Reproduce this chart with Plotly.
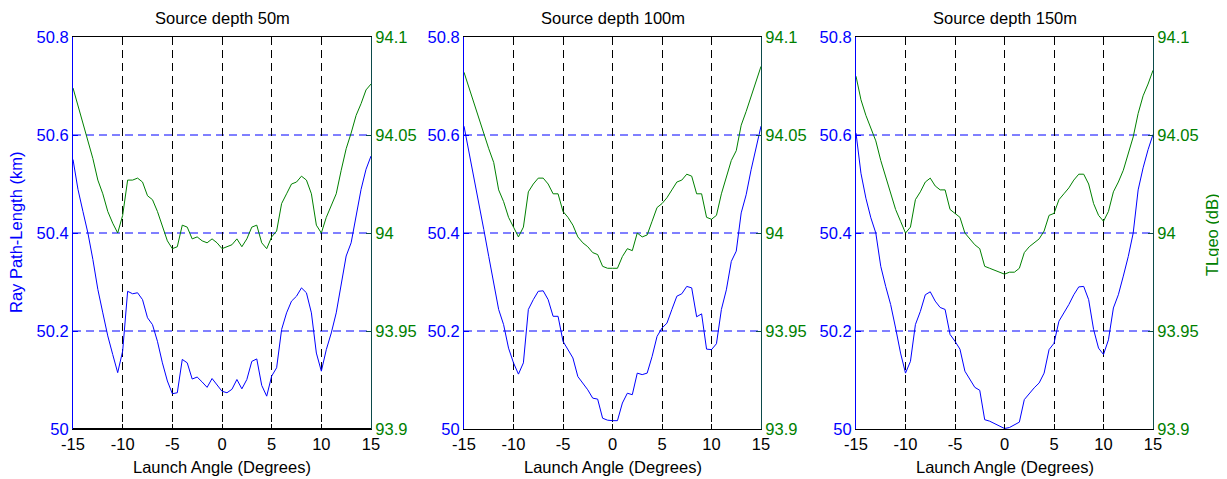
import plotly.graph_objects as go

# ---------------- data ----------------
angles = [-15.0, -14.5, -14.0, -13.5, -13.0, -12.5, -12.0, -11.5, -11.0, -10.5,
          -10.0, -9.5, -9.0, -8.5, -8.0, -7.5, -7.0, -6.5, -6.0, -5.5,
          -5.0, -4.5, -4.0, -3.5, -3.0, -2.5, -2.0, -1.5, -1.0, -0.5,
          0.0, 0.5, 1.0, 1.5, 2.0, 2.5, 3.0, 3.5, 4.0, 4.5,
          5.0, 5.5, 6.0, 6.5, 7.0, 7.5, 8.0, 8.5, 9.0, 9.5,
          10.0, 10.5, 11.0, 11.5, 12.0, 12.5, 13.0, 13.5, 14.0, 14.5, 15.0]

path_50 = [50.550, 50.489, 50.444, 50.400, 50.346, 50.285, 50.237, 50.190, 50.152, 50.115,
           50.159, 50.281, 50.276, 50.278, 50.264, 50.227, 50.213, 50.179, 50.135, 50.098,
           50.072, 50.074, 50.142, 50.135, 50.102, 50.106, 50.096, 50.085, 50.103, 50.091,
           50.077, 50.074, 50.081, 50.101, 50.082, 50.101, 50.138, 50.143, 50.089, 50.067,
           50.108, 50.125, 50.203, 50.237, 50.261, 50.271, 50.288, 50.278, 50.237, 50.155,
           50.118, 50.162, 50.196, 50.237, 50.298, 50.353, 50.380, 50.434, 50.489, 50.530, 50.557]

tl_50 = [94.074, 94.065, 94.056, 94.048, 94.038, 94.027, 94.020, 94.011, 94.005, 94.000,
         94.009, 94.027, 94.027, 94.028, 94.026, 94.019, 94.017, 94.011, 94.003, 93.996,
         93.992, 93.993, 94.004, 94.003, 93.997, 93.998, 93.996, 93.995, 93.997, 93.995,
         93.992, 93.993, 93.994, 93.997, 93.993, 93.997, 94.003, 94.004, 93.995, 93.992,
         93.998, 94.001, 94.015, 94.020, 94.025, 94.026, 94.029, 94.027, 94.020, 94.004,
         94.000, 94.008, 94.014, 94.020, 94.032, 94.043, 94.051, 94.060, 94.066, 94.073, 94.076]

path_100 = [50.618, 50.567, 50.516, 50.461, 50.407, 50.352, 50.298, 50.244, 50.213, 50.165,
            50.135, 50.112, 50.135, 50.244, 50.264, 50.281, 50.282, 50.264, 50.230, 50.230,
            50.179, 50.161, 50.145, 50.107, 50.094, 50.080, 50.063, 50.061, 50.022, 50.018,
            50.017, 50.017, 50.053, 50.073, 50.070, 50.114, 50.111, 50.114, 50.148, 50.189,
            50.206, 50.216, 50.244, 50.271, 50.276, 50.291, 50.288, 50.229, 50.235, 50.163,
            50.162, 50.174, 50.244, 50.284, 50.342, 50.363, 50.441, 50.478, 50.529, 50.573, 50.618]

tl_100 = [94.082, 94.074, 94.066, 94.059, 94.051, 94.043, 94.036, 94.022, 94.016, 94.008,
          94.003, 93.998, 94.003, 94.021, 94.025, 94.028, 94.028, 94.025, 94.020, 94.020,
          94.011, 94.008, 94.004, 93.998, 93.995, 93.993, 93.990, 93.989, 93.983, 93.982,
          93.982, 93.982, 93.988, 93.992, 93.991, 94.000, 93.998, 93.999, 94.006, 94.013,
          94.015, 94.018, 94.022, 94.026, 94.027, 94.030, 94.029, 94.020, 94.020, 94.008,
          94.007, 94.009, 94.020, 94.028, 94.037, 94.042, 94.055, 94.062, 94.070, 94.078, 94.085]

path_150 = [50.604, 50.522, 50.471, 50.431, 50.400, 50.332, 50.291, 50.254, 50.206, 50.155,
            50.114, 50.138, 50.213, 50.240, 50.274, 50.280, 50.261, 50.248, 50.244, 50.193,
            50.179, 50.163, 50.118, 50.102, 50.085, 50.079, 50.019, 50.016, 50.011, 50.005,
            50.001, 50.003, 50.008, 50.014, 50.060, 50.073, 50.084, 50.094, 50.114, 50.162,
            50.175, 50.220, 50.237, 50.254, 50.274, 50.290, 50.291, 50.264, 50.203, 50.165,
            50.152, 50.182, 50.247, 50.274, 50.312, 50.352, 50.400, 50.488, 50.533, 50.570, 50.601]

tl_150 = [94.080, 94.068, 94.060, 94.053, 94.047, 94.037, 94.029, 94.020, 94.012, 94.006,
          94.000, 94.003, 94.017, 94.021, 94.026, 94.028, 94.024, 94.022, 94.022, 94.012,
          94.010, 94.008, 94.000, 93.997, 93.994, 93.992, 93.983, 93.982, 93.981, 93.980,
          93.979, 93.980, 93.980, 93.982, 93.990, 93.993, 93.995, 93.997, 94.001, 94.009,
          94.010, 94.017, 94.020, 94.023, 94.027, 94.030, 94.030, 94.025, 94.015, 94.009,
          94.006, 94.011, 94.021, 94.026, 94.032, 94.040, 94.049, 94.061, 94.070, 94.076, 94.083]

panel_titles = ["Source depth 50m", "Source depth 100m", "Source depth 150m"]
x_ticks = [-15, -10, -5, 0, 5, 10, 15]
left_ticks = [50.0, 50.2, 50.4, 50.6, 50.8]
left_labels = ["50", "50.2", "50.4", "50.6", "50.8"]
right_ticks = [93.9, 93.95, 94.0, 94.05, 94.1]
right_labels = ["93.9", "93.95", "94", "94.05", "94.1"]
left_title = "Ray Path-Length (km)"
right_title = "TLgeo (dB)"
x_title = "Launch Angle (Degrees)"

path_series = [path_50, path_100, path_150]
tl_series = [tl_50, tl_100, tl_150]

# ---------------- styling ----------------
# The page body has an 8px margin, so the figure is 8px smaller and all
# pixel positions below are measured from the figure's own corner.
OFF = 8
W, H = 1227 - OFF, 479 - OFF
BLUE = "rgb(0,0,255)"
GREEN = "rgb(0,128,0)"
RIGHT_LINE = "#0b4a4a"
FONT = "Liberation Sans, Arial, sans-serif"
FS = 16.5
DASH = "8px,5px"
px_x = [(73 - OFF, 371 - OFF), (464 - OFF, 761 - OFF), (856 - OFF, 1153 - OFF)]
y_top, y_bot = 37 - OFF, 429 - OFF
ydom = [1 - y_bot / H, 1 - y_top / H]

fig = go.Figure()
layout = dict(
    template="none",
    width=W, height=H,
    margin=dict(l=0, r=0, t=0, b=0),
    paper_bgcolor="white", plot_bgcolor="white",
    showlegend=False,
    font=dict(family=FONT, size=FS, color="black"),
    annotations=[],
    shapes=[],
)

for k in range(3):
    xn = "x" if k == 0 else f"x{k + 1}"
    yl = f"y{2 * k + 1}" if k > 0 else "y"
    yr = f"y{2 * k + 2}"
    xkey = "xaxis" if k == 0 else f"xaxis{k + 1}"
    ylkey = "yaxis" if k == 0 else f"yaxis{2 * k + 1}"
    yrkey = f"yaxis{2 * k + 2}"
    x0, x1 = px_x[k]
    xdom = [x0 / W, x1 / W]

    fig.add_trace(go.Scatter(x=angles, y=path_series[k], mode="lines",
                             line=dict(color=BLUE, width=1), xaxis=xn, yaxis=yl,
                             hoverinfo="skip"))
    fig.add_trace(go.Scatter(x=angles, y=tl_series[k], mode="lines",
                             line=dict(color=GREEN, width=1), xaxis=xn, yaxis=yr,
                             hoverinfo="skip"))

    layout[xkey] = dict(
        domain=xdom, anchor=yl, range=[-15, 15],
        tickmode="array", tickvals=x_ticks, ticktext=[str(v) for v in x_ticks],
        showline=True, linecolor="black", linewidth=1, mirror="ticks",
        ticks="inside", ticklen=5, tickcolor="black", tickwidth=1,
        showgrid=True, gridcolor="black", gridwidth=1, griddash=DASH,
        zeroline=False, tickfont=dict(color="black", size=FS),
        automargin=False, fixedrange=True,
    )
    layout[ylkey] = dict(
        domain=ydom, anchor=xn, range=[50.0, 50.8], side="left",
        tickmode="array", tickvals=left_ticks, ticktext=left_labels,
        showline=True, linecolor=BLUE, linewidth=1,
        ticks="inside", ticklen=5, tickcolor=BLUE, tickwidth=1,
        showgrid=False, zeroline=False, tickfont=dict(color=BLUE, size=FS),
        automargin=False, fixedrange=True,
    )
    layout[yrkey] = dict(
        overlaying=yl, anchor=xn, range=[93.9, 94.1], side="right",
        tickmode="array", tickvals=right_ticks, ticktext=right_labels,
        showline=True, linecolor=RIGHT_LINE, linewidth=1,
        ticks="inside", ticklen=5, tickcolor=RIGHT_LINE, tickwidth=1,
        showgrid=False, zeroline=False, tickfont=dict(color=GREEN, size=FS),
        automargin=False, fixedrange=True,
    )

    # blue dashed horizontal grid at the interior left-axis ticks
    for tv in left_ticks[1:-1]:
        layout["shapes"].append(dict(
            type="line", xref=f"{xn} domain", x0=0, x1=1, yref=yl, y0=tv, y1=tv,
            line=dict(color=BLUE, width=1, dash=DASH), layer="below"))

    cx = (x0 + x1) / 2 / W
    layout["annotations"].append(dict(
        text=panel_titles[k], x=cx, y=1 - (18 - OFF) / H, xref="paper", yref="paper",
        xanchor="center", yanchor="middle", showarrow=False,
        font=dict(family=FONT, size=FS, color="black")))
    layout["annotations"].append(dict(
        text=x_title, x=cx, y=1 - (467 - OFF) / H, xref="paper", yref="paper",
        xanchor="center", yanchor="middle", showarrow=False,
        font=dict(family=FONT, size=FS, color="black")))

# thicker bottom frame line in the first panel, as in the original
layout["shapes"].append(dict(
    type="line", xref="x domain", x0=0, x1=1, yref="y domain", y0=0, y1=0,
    line=dict(color="black", width=2), layer="above"))

layout["annotations"].append(dict(
    text=left_title, x=(16 - OFF) / W, y=1 - (233 - OFF) / H, xref="paper", yref="paper",
    xanchor="center", yanchor="middle", showarrow=False, textangle=-90,
    font=dict(family=FONT, size=FS, color=BLUE)))
layout["annotations"].append(dict(
    text=right_title, x=(1212 - OFF) / W, y=1 - (235 - OFF) / H, xref="paper", yref="paper",
    xanchor="center", yanchor="middle", showarrow=False, textangle=-90,
    font=dict(family=FONT, size=FS, color=GREEN)))

fig.update_layout(**layout)
fig.write_html("out.html", config={"displayModeBar": False})
